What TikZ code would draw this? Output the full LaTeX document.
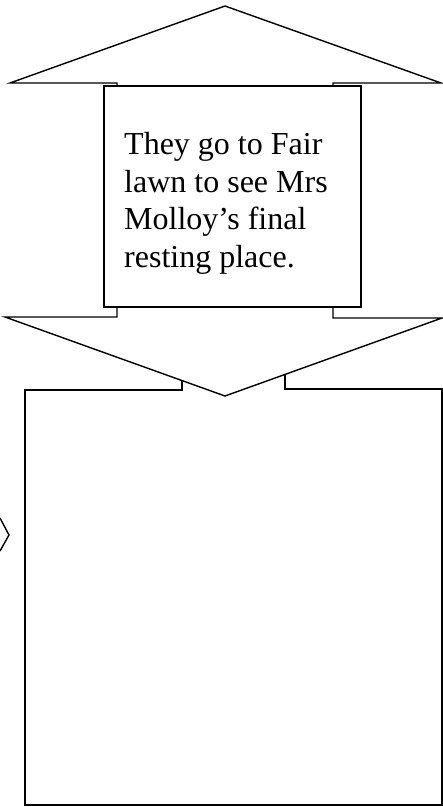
\documentclass[tikz,border=0pt]{standalone}
\usepackage{fontspec}
\setmainfont{Liberation Serif}
\begin{document}
\begin{tikzpicture}[x=1pt,y=-1pt,
  outline/.style={draw=black,line width=1.4pt,fill=white,line join=miter},
  heavyline/.style={draw=black,line width=1.8pt,fill=white,line join=miter},
  cardbox/.style={draw=black,line width=1.4pt,fill=white,rectangle,
    minimum width=257pt,minimum height=221pt,inner sep=0pt},
  msgtext/.style={align=left,inner sep=0pt,anchor=north west,
    font=\fontsize{32}{37.4}\selectfont}]
\useasboundingbox (0,0) rectangle (443,807);

% large lower panel with its raised tab
\draw[heavyline] (25,390) -- (182,390) -- (182,340) -- (285,340) -- (285,389)
  -- (442,389) -- (442,805) -- (25,805) -- cycle;

% tip of a side arrow at the left margin
\draw[outline,fill=none] (0,518) -- (9,535) -- (0,551);

% upward block arrow
\draw[outline] (117,150) -- (117,83) -- (10,83) -- (225,6) -- (441,83)
  -- (333,83) -- (333,150);

% downward block arrow
\draw[outline] (117,250) -- (117,317) -- (5,317) -- (225,396) -- (442,318)
  -- (333,318) -- (333,250);

% central text card
\node[cardbox] (card) at (232.5,196.5) {};
\node[msgtext] (msg) at (124,132.5)
  {They go to Fair\\lawn to see Mrs\\Molloy’s final\\resting place.};
\end{tikzpicture}
\end{document}
